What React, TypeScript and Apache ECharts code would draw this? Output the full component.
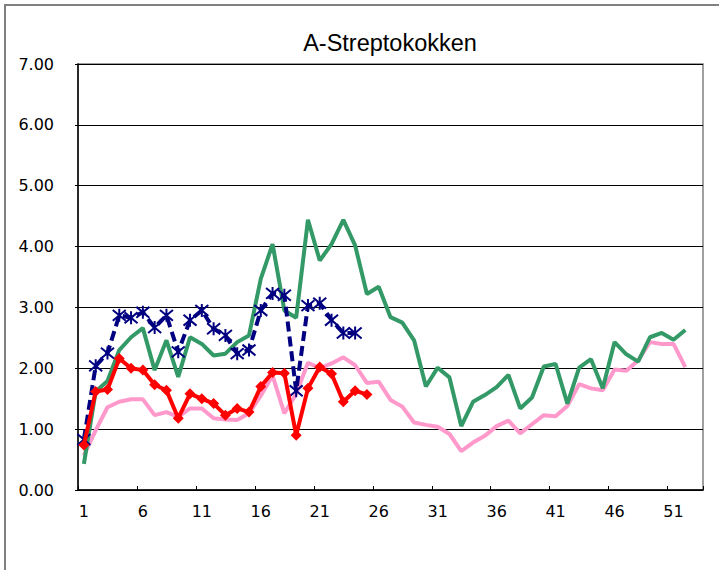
import React, { useEffect, useRef } from "react";
import * as echarts from "echarts";

const weeks: string[] = Array.from({ length: 53 }, (_, i) => String(i + 1));

const yTicks = [0, 1, 2, 3, 4, 5, 6, 7];

const greenSeries = [
  0.43, 1.62, 1.79, 2.3, 2.51, 2.66, 1.97, 2.46, 1.86, 2.51,
  2.4, 2.21, 2.24, 2.43, 2.54, 3.47, 4.04, 2.95, 2.83, 4.44,
  3.77, 4.04, 4.44, 4.02, 3.22, 3.34, 2.84, 2.75, 2.46, 1.7,
  2.01, 1.85, 1.05, 1.45, 1.56, 1.69, 1.89, 1.34, 1.52, 2.03,
  2.07, 1.42, 2.01, 2.15, 1.67, 2.43, 2.23, 2.11, 2.51, 2.58,
  2.47, 2.63,
];

const pinkSeries = [
  0.57, 0.98, 1.36, 1.45, 1.49, 1.49, 1.23, 1.28, 1.2, 1.34,
  1.34, 1.18, 1.16, 1.15, 1.26, 1.55, 1.88, 1.26, 1.58, 2.09,
  2.0, 2.08, 2.18, 2.05, 1.76, 1.78, 1.48, 1.37, 1.11, 1.07,
  1.04, 0.92, 0.64, 0.78, 0.89, 1.05, 1.14, 0.93, 1.08, 1.23,
  1.21, 1.38, 1.74, 1.67, 1.64, 1.98, 1.96, 2.13, 2.43, 2.4,
  2.4, 2.02,
];

const navySeries = [
  0.83, 2.04, 2.25, 2.87, 2.83, 2.92, 2.67, 2.87, 2.27, 2.79,
  2.95, 2.65, 2.54, 2.24, 2.3, 2.95, 3.23, 3.2, 1.63, 3.03,
  3.07, 2.79, 2.58, 2.58,
];

const redSeries = [
  0.74, 1.62, 1.65, 2.16, 2.0, 1.97, 1.73, 1.64, 1.18, 1.58,
  1.5, 1.42, 1.23, 1.34, 1.28, 1.7, 1.93, 1.92, 0.9, 1.67,
  2.02, 1.91, 1.45, 1.63, 1.57,
];

const titleText = "A-Streptokokken";

const asterisk = "path://M-5,-5 L5,5 M-5,5 L5,-5 M0,-6 L0,6";

export default function App() {
  const ref = useRef<HTMLDivElement>(null);

  useEffect(() => {
    if (!ref.current) return;
    const chart = echarts.init(ref.current, undefined, { renderer: "svg" });
    const labelFont = "DejaVu Sans";
    chart.setOption({
      animation: false,
      backgroundColor: "#ffffff",
      graphic: [
        {
          type: "rect",
          shape: { x: 5, y: 5, width: 760, height: 640 },
          style: { fill: "none", stroke: "#808080", lineWidth: 2 },
          silent: true,
        },
        {
          type: "text",
          x: 390,
          y: 43,
          style: {
            text: titleText,
            fill: "#000000",
            font: "23.5px 'Liberation Sans', Arial, sans-serif",
            textAlign: "center",
            textVerticalAlign: "middle",
          },
        },
      ],
      grid: {
        left: 78,
        right: 16,
        top: 64,
        bottom: 80,
        show: true,
        borderColor: "#808080",
        borderWidth: 1.5,
        containLabel: false,
      },
      xAxis: {
        type: "category",
        data: weeks,
        boundaryGap: true,
        axisLine: { show: true, lineStyle: { color: "#000000", width: 1.5 } },
        axisTick: {
          show: true,
          inside: true,
          length: 4,
          interval: 4,
          lineStyle: { color: "#000000", width: 1 },
        },
        axisLabel: {
          interval: 4,
          margin: 13,
          color: "#000000",
          fontFamily: labelFont,
          fontSize: 16,
        },
        splitLine: { show: false },
      },
      yAxis: {
        type: "value",
        min: yTicks[0],
        max: yTicks[yTicks.length - 1],
        interval: 1,
        axisLine: { show: true, lineStyle: { color: "#000000", width: 1.5 } },
        axisTick: { show: true, length: 3, lineStyle: { color: "#000000" } },
        axisLabel: {
          margin: 24,
          color: "#000000",
          fontFamily: labelFont,
          fontSize: 16,
          formatter: (v: number) => v.toFixed(2),
        },
        splitLine: { show: true, lineStyle: { color: "#000000", width: 1 } },
      },
      series: [
        {
          type: "line",
          data: pinkSeries,
          symbol: "none",
          lineStyle: { color: "#FF99CC", width: 4 },
          itemStyle: { color: "#FF99CC" },
          z: 2,
        },
        {
          type: "line",
          data: greenSeries,
          symbol: "none",
          lineStyle: { color: "#339966", width: 4 },
          itemStyle: { color: "#339966" },
          z: 3,
        },
        {
          type: "line",
          data: navySeries,
          symbol: asterisk,
          symbolSize: 13,
          showAllSymbol: true,
          lineStyle: { color: "#000080", width: 4, type: [10, 5] },
          itemStyle: { color: "#000080", borderColor: "#000080", borderWidth: 2 },
          z: 4,
        },
        {
          type: "line",
          data: redSeries,
          symbol: "diamond",
          symbolSize: 11,
          showAllSymbol: true,
          lineStyle: { color: "#FF0000", width: 4 },
          itemStyle: { color: "#FF0000" },
          z: 5,
        },
      ],
    });
    return () => chart.dispose();
  }, []);

  return (
    <div
      ref={ref}
      style={{ position: "fixed", left: 0, top: 0, width: 719, height: 570 }}
    />
  );
}
